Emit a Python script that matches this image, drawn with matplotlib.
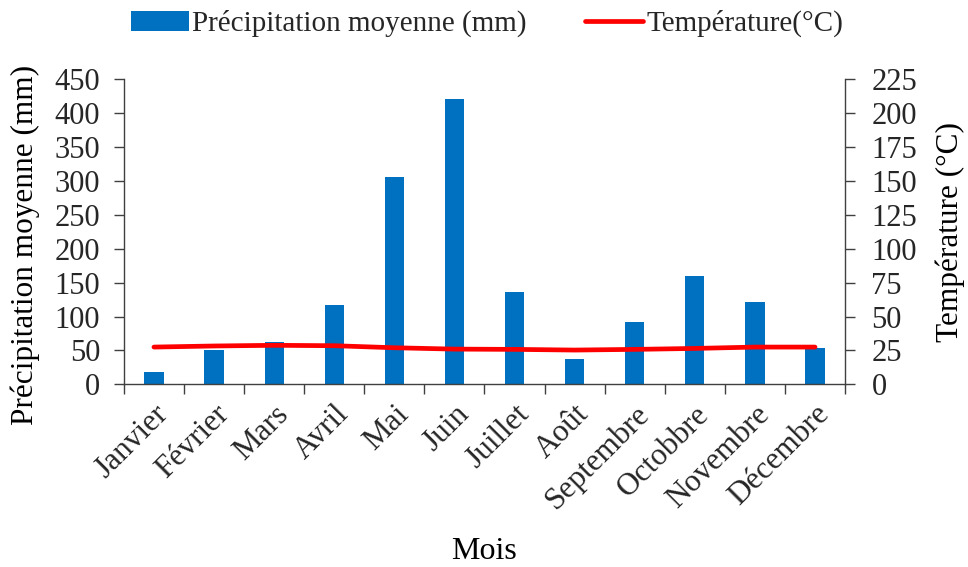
import matplotlib.pyplot as plt
import numpy as np

BAR_COLOR = "#0070C0"
LINE_COLOR = "#FF0000"
AXIS_COLOR = "#404040"
TEXT_COLOR = "#262626"

mois = ["Janvier", "Février", "Mars", "Avril", "Mai", "Juin", "Juillet",
        "Août", "Septembre", "Octobbre", "Novembre", "Décembre"]
precipitation = [19, 51, 62, 117, 306, 421, 136, 38, 92, 159, 121, 53]
temperature = [27.5, 28.3, 28.8, 28.5, 27.0, 26.0, 25.8, 25.3, 25.8, 26.5, 27.5, 27.5]

plt.rcParams["font.family"] = ["Liberation Serif", "DejaVu Serif"]
plt.rcParams["text.color"] = TEXT_COLOR

fig = plt.figure(figsize=(9.68, 5.67), dpi=100)
ax = fig.add_axes([0.128, 0.322, 0.745, 0.539])
ax2 = ax.twinx()

x = np.arange(len(mois))
bars = ax.bar(x, precipitation, width=0.32, color=BAR_COLOR, zorder=2,
              label="Précipitation moyenne (mm)")
line, = ax2.plot(x, temperature, color=LINE_COLOR, linewidth=3.4,
                 solid_capstyle="round", label="Température(°C)")

ax.set_xlim(-0.5, len(mois) - 0.5)
ax.set_ylim(0, 450)
ax.set_yticks(np.arange(0, 451, 50))
ax2.set_ylim(0, 225)
ax2.set_yticks(np.arange(0, 226, 25))

# category ticks sit on the boundaries between months
ax.set_xticks(x)
ax.set_xticklabels(mois, rotation=45, ha="right", rotation_mode="anchor")
ax.set_xticks(np.arange(-0.5, len(mois)), minor=True)
ax.tick_params(axis="x", which="major", length=0, pad=11, labelsize=22.5,
               labelcolor=TEXT_COLOR)
ax.tick_params(axis="x", which="minor", length=7, width=1, color=AXIS_COLOR,
               direction="out")
ax.tick_params(axis="y", length=7, width=1, color=AXIS_COLOR, labelsize=22,
               labelcolor=TEXT_COLOR, pad=10)
ax2.tick_params(axis="y", length=7, width=1, color=AXIS_COLOR, labelsize=22,
                labelcolor=TEXT_COLOR, pad=12)

for a in (ax, ax2):
    a.spines["top"].set_visible(False)
    for s in ("left", "right", "bottom"):
        a.spines[s].set_color(AXIS_COLOR)
        a.spines[s].set_linewidth(1)
ax.spines["right"].set_visible(False)
ax2.spines["left"].set_visible(False)
ax2.spines["bottom"].set_visible(False)

ax.set_ylabel("Précipitation moyenne (mm)", fontsize=22.5)
ax.yaxis.set_label_coords(-0.117, 0.455)
ax2.set_ylabel("Température (°C)", fontsize=22.5)
ax2.yaxis.set_label_coords(1.125, 0.50)
ax.set_xlabel("Mois", fontsize=23)
ax.xaxis.set_label_coords(0.50, -0.50)

fig.legend(handles=[bars, line], loc="center", bbox_to_anchor=(0.503, 0.958),
           ncol=2, frameon=False, fontsize=21, handlelength=2.0,
           handletextpad=0.1, columnspacing=2.0, borderaxespad=0)

fig.savefig("out.png", dpi=100)
